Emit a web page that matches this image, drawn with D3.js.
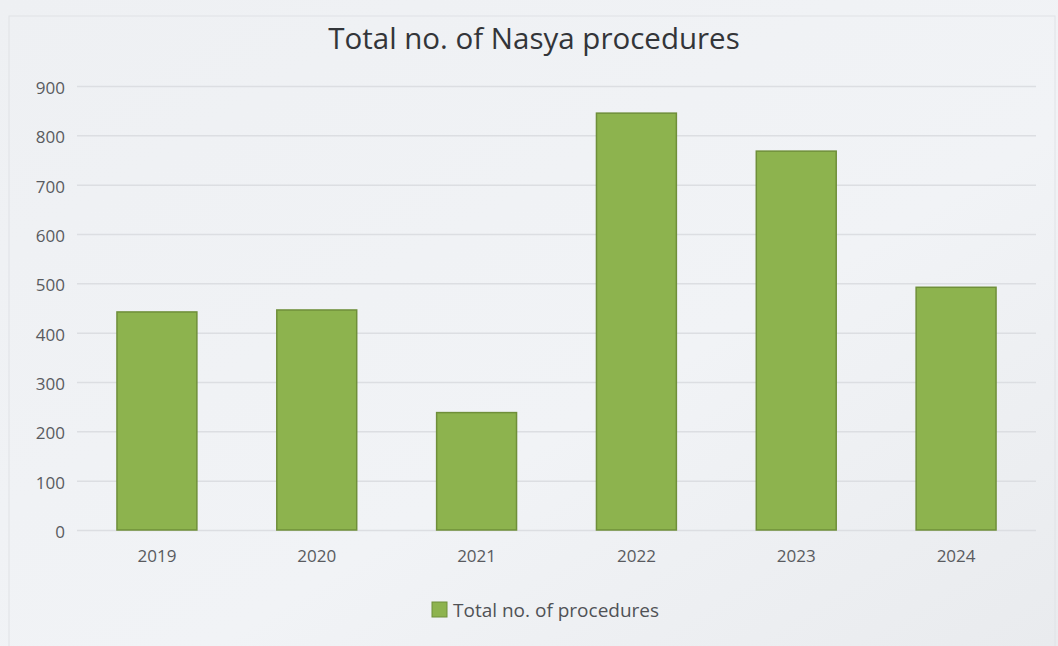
<!DOCTYPE html>
<html>
<head>
<meta charset="utf-8">
<script src="https://cdn.jsdelivr.net/npm/d3@7"></script>
<style>
  body { margin: 0; background: #eceef1; }
  svg { display: block; }
</style>
</head>
<body>
<div id="chart"></div>
<script>
var years = ["2019", "2020", "2021", "2022", "2023", "2024"];
var procedures = [442, 446, 238, 845, 768, 492];
var yTicks = [0, 100, 200, 300, 400, 500, 600, 700, 800, 900];
var chartTitle = "Total no. of Nasya procedures";
var seriesName = "Total no. of procedures";

var W = 1058, H = 646;
var margin = {top: 86, right: 22, bottom: 116, left: 77};

var svg = d3.select("#chart")
    .append("svg")
    .attr("width", W)
    .attr("height", H);

var defs = svg.append("defs");
var bg = defs.append("linearGradient").attr("id", "bg")
    .attr("x1", "0%").attr("y1", "0%").attr("x2", "100%").attr("y2", "100%");
bg.append("stop").attr("offset", "0%").attr("stop-color", "#eef0f3");
bg.append("stop").attr("offset", "60%").attr("stop-color", "#f1f3f6");
bg.append("stop").attr("offset", "100%").attr("stop-color", "#e9ebee");

svg.append("rect").attr("width", W).attr("height", H).style("fill", "url(#bg)");

// faint chart frame
svg.append("rect")
    .attr("x", 9).attr("y", 16).attr("width", W - 12).attr("height", H - 10)
    .style("fill", "none").style("stroke", "#e0e2e6").style("stroke-width", 1);

var x = d3.scaleBand()
    .domain(years)
    .range([margin.left, W - margin.right])
    .paddingInner(0.5)
    .paddingOuter(0.25);

var y = d3.scaleLinear()
    .domain([0, 900])
    .range([H - margin.bottom, margin.top]);

// gridlines
svg.append("g")
    .selectAll("line")
    .data(yTicks)
    .enter()
    .append("line")
    .attr("x1", margin.left)
    .attr("x2", W - margin.right)
    .attr("y1", function (d) { return y(d) + 0.5; })
    .attr("y2", function (d) { return y(d) + 0.5; })
    .style("stroke", "#dcdee2")
    .style("stroke-width", 1.5);

// y axis labels
var yAxis = d3.axisLeft(y).tickValues(yTicks).tickSize(0).tickPadding(10);
svg.append("g")
    .attr("transform", "translate(" + (margin.left - 2) + ",2)")
    .call(yAxis)
    .call(function (g) { g.select(".domain").remove(); })
    .selectAll("text")
    .style("font-family", "'Open Sans', sans-serif")
    .style("font-size", "17px")
    .style("fill", "#595b5f");

// bars
svg.append("g")
    .selectAll("rect")
    .data(procedures)
    .enter()
    .append("rect")
    .attr("x", function (d, i) { return x(years[i]); })
    .attr("y", function (d) { return y(d); })
    .attr("width", x.bandwidth())
    .attr("height", function (d) { return y(0) - y(d); })
    .style("fill", "#8db34e")
    .style("stroke", "#6f8f3a")
    .style("stroke-width", 1.5);

// x axis labels
var xAxis = d3.axisBottom(x).tickSize(0).tickPadding(20);
svg.append("g")
    .attr("transform", "translate(0," + y(0) + ")")
    .call(xAxis)
    .call(function (g) { g.select(".domain").remove(); })
    .selectAll("text")
    .style("font-family", "'Open Sans', sans-serif")
    .style("font-size", "17px")
    .style("fill", "#595b5f");

// title
svg.append("text")
    .attr("x", 534)
    .attr("y", 49)
    .style("text-anchor", "middle")
    .style("font-family", "'Open Sans', sans-serif")
    .style("font-size", "29.5px")
    .style("fill", "#333539")
    .text(chartTitle);

// legend
var legend = svg.append("g").attr("transform", "translate(432,602)");
legend.append("rect")
    .attr("width", 15).attr("height", 15)
    .style("fill", "#8db34e")
    .style("stroke", "#6f8f3a");
legend.append("text")
    .attr("x", 21)
    .attr("y", 15)
    .style("font-family", "'Open Sans', sans-serif")
    .style("font-size", "19px")
    .style("fill", "#505256")
    .text(seriesName);
</script>
</body>
</html>
